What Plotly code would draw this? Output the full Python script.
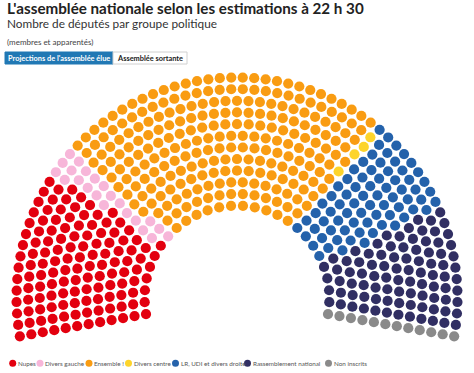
import numpy as np
import plotly.graph_objects as go

# ---- data ----
groups = ["Nupes", "Divers gauche", "Ensemble !", "Divers centre",
          "LR, UDI et divers droite", "Rassemblement national", "Non inscrits"]
seats = [131, 22, 245, 4, 74, 89, 12]
colors = ["#e3000f", "#f7b6d9", "#f99c12", "#fdd42b", "#2462ab", "#312f63", "#8a8a8a"]

title = "L'assemblée nationale selon les estimations à 22 h 30"
subtitle = "Nombre de députés par groupe politique"
note = "(membres et apparentés)"
buttons = ["Projections de l'assemblée élue", "Assemblée sortante"]

# ---- parliament layout (geometry) ----
W, H = 474, 373
cx, cy = 237.0, 298.0
r_in, r_out = 92.4, 220.5
n_rows = 12
start_deg, end_deg = 190.0, -10.0

total = sum(seats)
radii = np.linspace(r_in, r_out, n_rows)
raw = total * radii / radii.sum()
counts = np.floor(raw).astype(int)
rem = total - counts.sum()
order = np.argsort(-(raw - counts))
for i in order[:rem]:
    counts[i] += 1

slots = []
for r, n in zip(radii, counts):
    for k in range(n):
        a = start_deg - k * (start_deg - end_deg) / (n - 1)
        slots.append((a, r))
slots.sort(key=lambda s: (-s[0], s[1]))

fig = go.Figure()
idx = 0
for g, s, c in zip(groups, seats, colors):
    part = slots[idx: idx + s]
    idx += s
    ang = np.radians([p[0] for p in part])
    rr = np.array([p[1] for p in part])
    fig.add_trace(go.Scatter(
        x=rr * np.cos(ang), y=rr * np.sin(ang), mode="markers", name=g,
        marker=dict(size=10.2, color=c, line=dict(width=0)),
        hoverinfo="name", showlegend=False, cliponaxis=False))

FONT = "Lato"

shapes = []
annotations = []

def px(x):
    return x / W

def py(y):
    return 1 - y / H

annotations.append(dict(text="<b>" + title + "</b>", x=px(5), y=py(19), xref="paper", yref="paper",
                        xanchor="left", yanchor="bottom", showarrow=False,
                        font=dict(family=FONT, size=15.2, color="#222")))
annotations.append(dict(text=subtitle, x=px(5), y=py(33), xref="paper", yref="paper",
                        xanchor="left", yanchor="bottom", showarrow=False,
                        font=dict(family=FONT, size=11.8, color="#333")))
annotations.append(dict(text=note, x=px(5), y=py(42.5), xref="paper", yref="paper",
                        xanchor="left", yanchor="middle", showarrow=False,
                        font=dict(family=FONT, size=8, color="#444")))

# buttons
btn_x = [(5, 113), (113, 187)]
btn_fill = ["#2178b4", "#ffffff"]
btn_txt = ["#ffffff", "#222222"]
btn_line = ["#2178b4", "#d0d0d0"]
for (x0, x1), lab, f, tc, lc in zip(btn_x, buttons, btn_fill, btn_txt, btn_line):
    shapes.append(dict(type="rect", xref="paper", yref="paper", x0=px(x0), x1=px(x1),
                       y0=py(64), y1=py(52), fillcolor=f, line=dict(color=lc, width=1)))
    annotations.append(dict(text="<b>" + lab + "</b>", x=px((x0 + x1) / 2), y=py(58),
                            xref="paper", yref="paper", xanchor="center", yanchor="middle",
                            showarrow=False, font=dict(family=FONT, size=7.4, color=tc)))

# legend
leg_x = [12.7, 40.0, 89.0, 128.5, 175.5, 247.5, 328.5]
leg_y = 363.3
for lx, g, c in zip(leg_x, groups, colors):
    shapes.append(dict(type="circle", xref="paper", yref="paper",
                       x0=px(lx - 3.5), x1=px(lx + 3.5), y0=py(leg_y + 3.5), y1=py(leg_y - 3.5),
                       fillcolor=c, line=dict(width=0)))
    annotations.append(dict(text=g, x=px(lx + 3.2), y=py(leg_y), xref="paper", yref="paper",
                            xanchor="left", yanchor="middle", showarrow=False,
                            font=dict(family=FONT, size=6.3, color="#555")))

fig.update_layout(
    width=W, height=H, margin=dict(l=0, r=0, t=0, b=0),
    paper_bgcolor="white", plot_bgcolor="white",
    xaxis=dict(range=[-cx, W - cx], visible=False, fixedrange=True),
    yaxis=dict(range=[-(H - cy), cy], visible=False, fixedrange=True),
    shapes=shapes, annotations=annotations, showlegend=False,
)
fig.write_html("out.html", config={"displayModeBar": False},
               post_script="document.body.style.margin='0';document.body.style.overflow='hidden';")
